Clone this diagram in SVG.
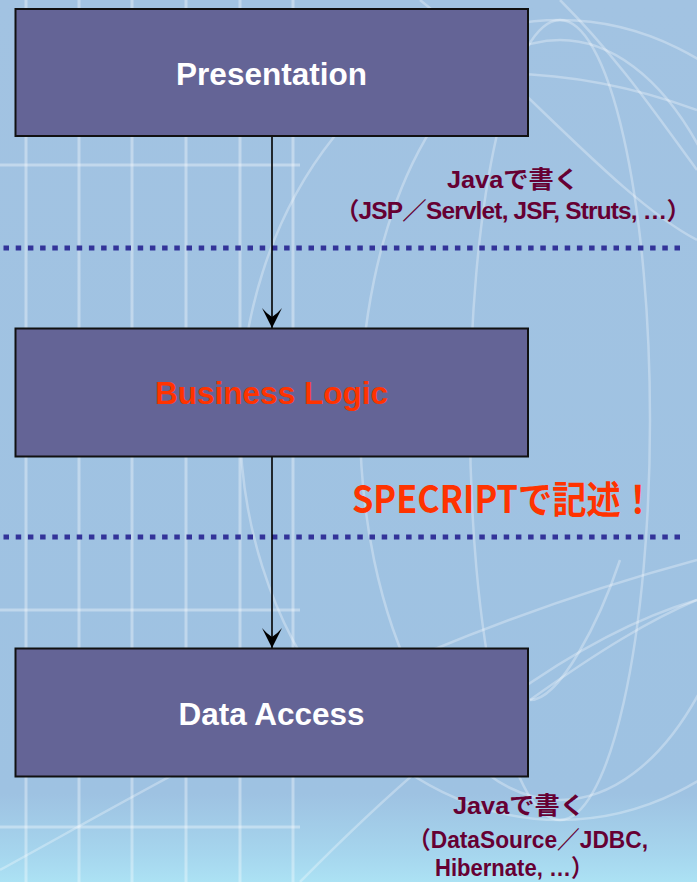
<svg xmlns="http://www.w3.org/2000/svg" width="697" height="882" viewBox="0 0 697 882">
  <style>
    .box { fill: #646496; stroke: #111111; stroke-width: 2; }
    .lbl { font-family: "Liberation Sans", Arial, sans-serif; font-weight: bold; font-size: 31.5px; text-anchor: middle; }
    .note { font-family: "Liberation Sans", "Noto Sans CJK JP", sans-serif; font-weight: bold; font-size: 24px; fill: #660033; }
    .hot { font-family: "Noto Sans CJK JP", "Noto Sans", sans-serif; font-weight: bold; font-size: 38px; fill: #ff3300; }
    .sep { stroke: #333399; stroke-width: 5; stroke-dasharray: 5.5 6.7; fill: none; }
    .conn { stroke: #000000; stroke-width: 1.6; fill: none; }
    .grid { stroke: #ffffff; stroke-opacity: 0.35; stroke-width: 3; fill: none; }
    .arc { stroke: #ffffff; stroke-opacity: 0.3; stroke-width: 2.5; fill: none; }
  </style>
  <defs>
    <linearGradient id="bg" x1="0" y1="0" x2="0" y2="1">
      <stop offset="0" stop-color="#a2c3e2"/>
      <stop offset="0.9" stop-color="#9ec2e2"/>
      <stop offset="0.97" stop-color="#a6d6ee"/>
      <stop offset="1" stop-color="#ace2f4"/>
    </linearGradient>
    <marker id="arrow" markerUnits="userSpaceOnUse" markerWidth="22" markerHeight="22" viewBox="0 0 22 22" refX="20" refY="11" orient="auto">
      <path d="M20,11 L0,1 Q6,6 9,11 Q6,16 0,21 Z" fill="#000000"/>
    </marker>
  </defs>

  <!-- background -->
  <rect x="0" y="0" width="697" height="882" fill="url(#bg)"/>
  <g id="background-pattern">
    <line class="grid" x1="26" y1="0" x2="26" y2="882"/>
    <line class="grid" x1="79" y1="0" x2="79" y2="882"/>
    <line class="grid" x1="132" y1="0" x2="132" y2="882"/>
    <line class="grid" x1="186" y1="0" x2="186" y2="882"/>
    <line class="grid" x1="240" y1="0" x2="240" y2="882"/>
    <line class="grid" x1="293" y1="0" x2="293" y2="882"/>
    <line class="grid" x1="0" y1="165" x2="300" y2="165" stroke-opacity="0.2"/>
    <line class="grid" x1="0" y1="610" x2="300" y2="610" stroke-opacity="0.2"/>
    <line class="grid" x1="0" y1="827" x2="300" y2="827" stroke-opacity="0.25"/>
    <ellipse class="arc" cx="560" cy="420" rx="200" ry="380"/>
    <ellipse class="arc" cx="560" cy="420" rx="320" ry="400"/>
    <ellipse class="arc" cx="560" cy="420" rx="90" ry="400"/>
    <path class="arc" d="M300,120 C420,60 560,60 697,110"/>
    <path class="arc" d="M420,0 C520,80 620,200 697,240"/>
    <path class="arc" d="M560,0 C620,60 660,120 697,170"/>
    <path class="arc" d="M0,870 C200,760 400,640 697,560"/>
    <path class="arc" d="M300,882 C420,760 560,640 697,600"/>
    <path class="arc" d="M530,700 C600,650 650,620 697,600"/>
    <path class="arc" d="M620,560 C600,620 560,700 530,700"/>
  </g>

  <!-- separators -->
  <g id="separators">
    <line class="sep" x1="3.5" y1="248" x2="680" y2="248"/>
    <line class="sep" x1="3.5" y1="537" x2="680" y2="537"/>
  </g>

  <!-- connectors -->
  <g id="connectors">
    <line class="conn" x1="272" y1="136" x2="272" y2="328" marker-end="url(#arrow)"/>
    <line class="conn" x1="272" y1="457" x2="272" y2="648" marker-end="url(#arrow)"/>
  </g>

  <!-- nodes -->
  <g id="presentation">
    <rect class="box" x="15.5" y="9" width="512.5" height="127"/>
    <text class="lbl" x="271.5" y="85" fill="#ffffff">Presentation</text>
  </g>
  <g id="business-logic">
    <rect class="box" x="15.5" y="328.5" width="512.5" height="128"/>
    <text class="lbl" x="271.5" y="404" fill="#ff3300">Business Logic</text>
  </g>
  <g id="data-access">
    <rect class="box" x="15.5" y="648.5" width="512.5" height="128"/>
    <text class="lbl" x="271.5" y="725" fill="#ffffff">Data Access</text>
  </g>

  <!-- annotations -->
  <g id="note-presentation">
    <text class="note" x="447" y="188" textLength="132" lengthAdjust="spacingAndGlyphs">Javaで書く</text>
    <text class="note" x="335" y="219" letter-spacing="-0.8" textLength="355" lengthAdjust="spacingAndGlyphs">（JSP／Servlet, JSF, Struts, …）</text>
  </g>
  <g id="note-business">
    <text class="hot" x="352" y="513" textLength="303" lengthAdjust="spacingAndGlyphs">SPECRIPTで記述！</text>
  </g>
  <g id="note-data">
    <text class="note" x="453" y="814" textLength="132" lengthAdjust="spacingAndGlyphs">Javaで書く</text>
    <text class="note" x="408" y="848" textLength="240" lengthAdjust="spacingAndGlyphs">（DataSource／JDBC,</text>
    <text class="note" x="435" y="876" textLength="158" lengthAdjust="spacingAndGlyphs">Hibernate, …）</text>
  </g>
</svg>
